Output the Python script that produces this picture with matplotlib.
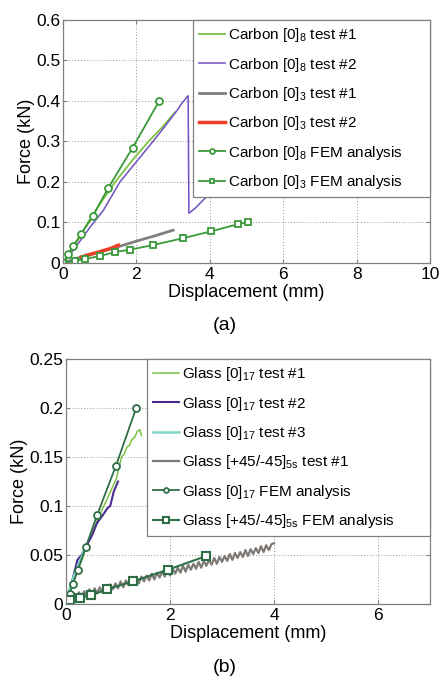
import matplotlib
matplotlib.use("Agg")
import matplotlib.pyplot as plt
from matplotlib.ticker import FuncFormatter, MultipleLocator

plt.rcParams['font.family'] = ['Liberation Sans', 'DejaVu Sans']
plt.rcParams['mathtext.fontset'] = 'custom'
plt.rcParams['mathtext.rm'] = 'Liberation Sans'
plt.rcParams['mathtext.default'] = 'regular'

# ---------------- Panel (a) data: Carbon ----------------
c8_t1_x = [0, 0.3, 0.68, 1.0, 1.42, 1.9, 2.33, 2.7, 3.05]
c8_t1_y = [0, 0.04, 0.10, 0.145, 0.20, 0.255, 0.30, 0.335, 0.372]

c8_t2_x = [0, 0.35, 0.75, 1.1, 1.55, 2.0, 2.45, 2.8, 3.16, 3.2, 3.41, 3.43, 3.6, 3.87, 4.2]
c8_t2_y = [0, 0.04, 0.09, 0.13, 0.20, 0.25, 0.30, 0.34, 0.383, 0.39, 0.413, 0.123, 0.135, 0.16, 0.185]

c3_t1_x = [0, 0.4, 1.0, 1.5, 2.0, 2.5, 3.0]
c3_t1_y = [0, 0.012, 0.027, 0.040, 0.054, 0.067, 0.081]

c3_t2_x = [0.5, 0.69, 1.0, 1.3, 1.51]
c3_t2_y = [0.015, 0.02, 0.028, 0.036, 0.044]

c8_fem_x = [0, 0.14, 0.27, 0.49, 0.81, 1.23, 1.9, 2.62]
c8_fem_y = [0, 0.022, 0.041, 0.071, 0.115, 0.185, 0.285, 0.40]

c3_fem_x = [0, 0.33, 0.6, 1.0, 1.42, 1.83, 2.44, 3.26, 4.03, 4.77, 5.04]
c3_fem_y = [0, 0.005, 0.01, 0.017, 0.027, 0.033, 0.044, 0.061, 0.078, 0.096, 0.101]

# ---------------- Panel (b) data: Glass ----------------
g17_t1_x = [0, 0.1, 0.2, 0.3, 0.4, 0.5, 0.6, 0.7, 0.8, 0.9, 0.97, 1.02, 1.07, 1.12, 1.17, 1.22, 1.27, 1.32, 1.37, 1.42, 1.45]
g17_t1_y = [0, 0.016, 0.031, 0.044, 0.06, 0.072, 0.085, 0.097, 0.108, 0.12, 0.128, 0.14, 0.15, 0.153, 0.16, 0.162, 0.168, 0.17, 0.176, 0.178, 0.172]

g17_t2_x = [0.05, 0.15, 0.22, 0.3, 0.4, 0.5, 0.6, 0.7, 0.8, 0.85, 0.92, 1.0]
g17_t2_y = [0.01, 0.03, 0.045, 0.05, 0.06, 0.07, 0.083, 0.09, 0.098, 0.1, 0.115, 0.125]

g17_t3_x = [0, 0.05, 0.1, 0.2, 0.3, 0.35]
g17_t3_y = [0, 0.012, 0.021, 0.035, 0.048, 0.055]

g45_t1_x = [0.00, 0.05, 0.10, 0.15, 0.20, 0.25, 0.30, 0.35, 0.40, 0.45,
            0.50, 0.55, 0.60, 0.65, 0.70, 0.75, 0.80, 0.85, 0.90, 0.95,
            1.00, 1.05, 1.10, 1.15, 1.20, 1.25, 1.30, 1.35, 1.40, 1.45,
            1.50, 1.55, 1.60, 1.65, 1.70, 1.75, 1.80, 1.85, 1.90, 1.95,
            2.00, 2.05, 2.10, 2.15, 2.20, 2.25, 2.30, 2.35, 2.40, 2.45,
            2.50, 2.55, 2.60, 2.65, 2.70, 2.75, 2.80, 2.85, 2.90, 2.95,
            3.00, 3.05, 3.10, 3.15, 3.20, 3.25, 3.30, 3.35, 3.40, 3.45,
            3.50, 3.55, 3.60, 3.65, 3.70, 3.75, 3.80, 3.85, 3.90, 3.95, 4.00]
g45_t1_y = [0.000, 0.006, 0.004, 0.011, 0.005, 0.012, 0.007, 0.013, 0.008, 0.015,
            0.009, 0.016, 0.011, 0.017, 0.012, 0.019, 0.013, 0.020, 0.015, 0.021,
            0.016, 0.023, 0.017, 0.024, 0.019, 0.025, 0.020, 0.027, 0.021, 0.028,
            0.023, 0.029, 0.024, 0.031, 0.025, 0.032, 0.027, 0.033, 0.028, 0.035,
            0.029, 0.036, 0.031, 0.037, 0.032, 0.039, 0.033, 0.040, 0.035, 0.041,
            0.036, 0.043, 0.037, 0.044, 0.039, 0.045, 0.040, 0.047, 0.041, 0.048,
            0.043, 0.049, 0.044, 0.051, 0.045, 0.052, 0.047, 0.053, 0.048, 0.055,
            0.049, 0.056, 0.051, 0.057, 0.052, 0.059, 0.053, 0.060, 0.055, 0.061, 0.062]

g17_fem_x = [0, 0.07, 0.13, 0.23, 0.38, 0.6, 0.96, 1.35]
g17_fem_y = [0, 0.01, 0.02, 0.035, 0.058, 0.091, 0.141, 0.20]

g45_fem_x = [0, 0.08, 0.27, 0.49, 0.79, 1.28, 1.96, 2.7]
g45_fem_y = [0, 0.004, 0.0065, 0.009, 0.015, 0.023, 0.035, 0.049]

labels_a = ['Carbon [0]$_8$ test #1', 'Carbon [0]$_8$ test #2',
            'Carbon [0]$_3$ test #1', 'Carbon [0]$_3$ test #2',
            'Carbon [0]$_8$ FEM analysis', 'Carbon [0]$_3$ FEM analysis']
labels_b = ['Glass [0]$_{17}$ test #1', 'Glass [0]$_{17}$ test #2',
            'Glass [0]$_{17}$ test #3', 'Glass [+45/-45]$_{5s}$ test #1',
            'Glass [0]$_{17}$ FEM analysis', 'Glass [+45/-45]$_{5s}$ FEM analysis']

fig = plt.figure(figsize=(4.4, 6.79), dpi=100)
W, H = 440, 679
ax1 = fig.add_axes([63 / W, 1 - 263 / H, (430 - 63) / W, (263 - 20) / H])
ax2 = fig.add_axes([66 / W, 1 - 604 / H, (430 - 66) / W, (604 - 359) / H])

fmt = FuncFormatter(lambda v, p: ('%g' % round(v, 4)))

def style(ax):
    for s in ax.spines.values():
        s.set_color('#808080')
        s.set_linewidth(0.9)
    ax.tick_params(direction='in', length=3, color='#808080', labelsize=12.5,
                   top=True, right=True, pad=2)
    ax.tick_params(axis='x', pad=3)
    ax.grid(True, linestyle=(0, (1, 2)), color='#9a9a9a', linewidth=0.7)
    ax.yaxis.set_major_formatter(fmt)
    ax.xaxis.set_major_formatter(fmt)
    ax.set_xlabel('Displacement (mm)', fontsize=13, labelpad=1)
    ax.set_ylabel('Force (kN)', fontsize=13, labelpad=1)

# Panel (a)
fem_a = '#3a9a3a'
ax1.plot(c8_t1_x, c8_t1_y, color='#7cc242', lw=1.3, label=labels_a[0])
ax1.plot(c8_t2_x, c8_t2_y, color='#7050c0', lw=1.1, label=labels_a[1])
ax1.plot(c3_t1_x, c3_t1_y, color='#808080', lw=2.0, label=labels_a[2])
ax1.plot(c3_t2_x, c3_t2_y, color='#ee4028', lw=2.5, label=labels_a[3])
ax1.plot(c8_fem_x, c8_fem_y, color=fem_a, lw=1.3, marker='o', ms=5,
         mfc='white', mec=fem_a, mew=1.3, label=labels_a[4])
ax1.plot(c3_fem_x, c3_fem_y, color=fem_a, lw=1.3, marker='s', ms=5,
         mfc='white', mec=fem_a, mew=1.3, label=labels_a[5])
ax1.set_xlim(0, 10)
ax1.set_ylim(0, 0.6)
ax1.xaxis.set_major_locator(MultipleLocator(2))
ax1.yaxis.set_major_locator(MultipleLocator(0.1))
style(ax1)

# Panel (b)
fem_b = '#2f6f48'
ax2.plot(g17_t1_x, g17_t1_y, color='#7cc242', lw=1.1, label=labels_b[0])
ax2.plot(g17_t2_x, g17_t2_y, color='#4b2a90', lw=1.5, label=labels_b[1])
ax2.plot(g17_t3_x, g17_t3_y, color='#7fd6c8', lw=1.8, label=labels_b[2])
ax2.plot(g45_t1_x, g45_t1_y, color='#7f7a75', lw=1.6, label=labels_b[3])
ax2.plot(g17_fem_x, g17_fem_y, color=fem_b, lw=1.3, marker='o', ms=5,
         mfc='white', mec=fem_b, mew=1.3, label=labels_b[4])
ax2.plot(g45_fem_x, g45_fem_y, color=fem_b, lw=1.5, marker='s', ms=5.5,
         mfc='white', mec=fem_b, mew=1.5, label=labels_b[5])
ax2.set_xlim(0, 7)
ax2.set_ylim(0, 0.25)
ax2.xaxis.set_major_locator(MultipleLocator(2))
ax2.yaxis.set_major_locator(MultipleLocator(0.05))
style(ax2)

for ax, x0 in ((ax1, (193 - 63) / 367), (ax2, (147 - 66) / 364)):
    leg = ax.legend(loc='upper left', bbox_to_anchor=(x0, 0.0, 1.0 - x0, 1.0),
                    mode='expand', borderaxespad=0,
                    fontsize=11, fancybox=False, framealpha=1, edgecolor='#808080',
                    handlelength=1.7, handletextpad=0.15, labelspacing=0.74,
                    borderpad=0.42, markerscale=0.7)
    leg.get_frame().set_linewidth(0.9)

fig.text(225 / W, 1 - 325 / H, '(a)', ha='center', va='center', fontsize=14)
fig.text(225 / W, 1 - 667 / H, '(b)', ha='center', va='center', fontsize=14)

fig.savefig('out.png', dpi=100)
